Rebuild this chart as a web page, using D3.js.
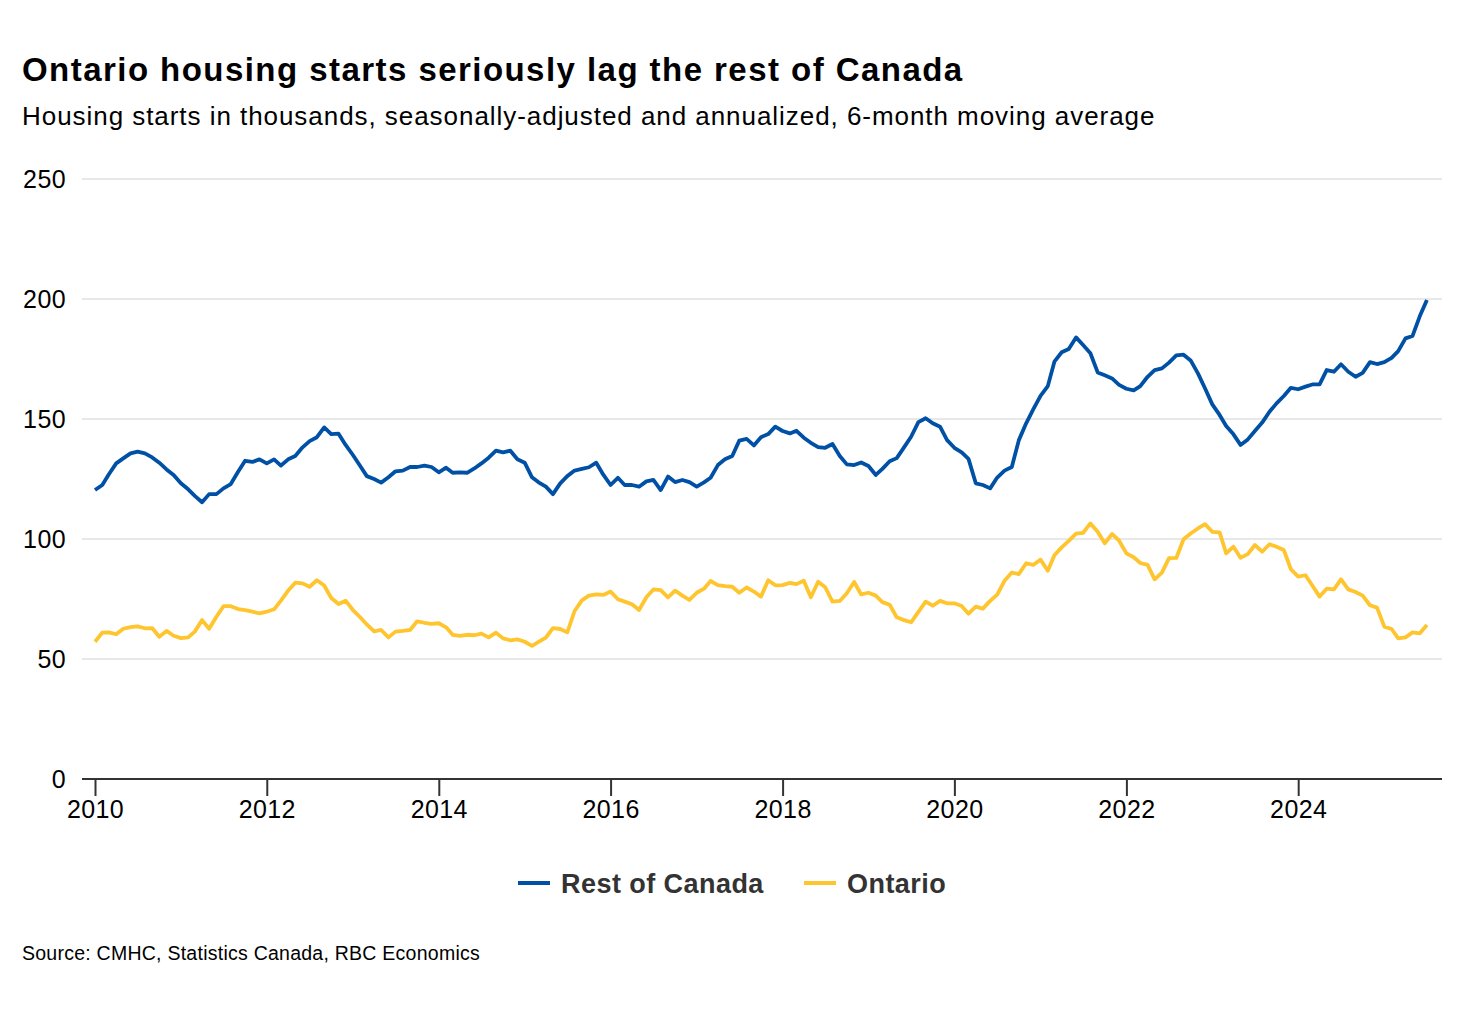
<!DOCTYPE html>
<html>
<head>
<meta charset="utf-8">
<script src="https://cdn.jsdelivr.net/npm/d3@7"></script>
<style>
  html, body { margin: 0; padding: 0; background: #fff; }
  svg { display: block; font-family: "Liberation Sans", Arial, Helvetica, sans-serif; }
</style>
</head>
<body>
<svg id="chart" width="1460" height="1028"></svg>
<script>
// ---------- DATA ----------
const titleText = "Ontario housing starts seriously lag the rest of Canada";
const subtitleText = "Housing starts in thousands, seasonally-adjusted and annualized, 6-month moving average";
const sourceText = "Source: CMHC, Statistics Canada, RBC Economics";

const seriesNames = ["Rest of Canada", "Ontario"];
const startYear = 2010; // monthly data from Jan 2010 to Jul 2025

const restOfCanada = [
  120.4,122.5,127,131.5,133.6,135.7,136.4,135.7,134,131.8,129,126.7,
  123.2,120.7,118,115.3,118.7,118.7,121.1,122.9,128,132.6,132.1,133.2,
  131.5,133.2,130.6,133.2,134.6,138.2,140.8,142.4,146.5,143.7,143.9,139.2,
  135,130.4,126.2,125,123.5,125.7,128.2,128.5,130,130,130.6,130,
  127.8,129.7,127.6,127.8,127.6,129.4,131.5,133.9,136.8,136.1,136.8,133.2,
  131.8,125.7,123.6,121.8,118.7,123.2,126.2,128.5,129.2,129.9,131.8,126.8,
  122.5,125.5,122.5,122.5,121.8,124,124.6,120.4,126,123.7,124.6,123.7,
  121.8,123.6,125.5,130.8,133.2,134.6,141,141.7,139,142.4,143.7,146.8,
  145,144,145.1,142.2,140.1,138.3,138,139.6,134.6,131.1,130.8,131.9,
  130.4,126.7,129.2,132.4,133.7,138.2,142.6,148.7,150.3,148.2,146.8,141.2,
  138,136.1,133.4,123.2,122.5,121.1,125.6,128.5,130,141.2,148.2,154,
  159.6,163.7,173.9,177.8,179.2,184,180.8,177.4,169.4,168.2,166.9,164.2,
  162.6,161.9,163.7,167.6,170.4,171.1,173.5,176.5,176.8,174.4,169,162.8,
  156.1,151.7,147.1,143.6,139.2,141.5,145,148.5,153,156.5,159.6,163,
  162.4,163.5,164.4,164.4,170.4,169.7,172.8,169.7,167.6,169.2,173.7,172.9,
  173.7,175.5,178.3,183.6,184.6,192.9,199.6
];

const ontario = [
  57.2,61,61.1,60.3,62.6,63.3,63.6,62.8,62.9,59.3,61.7,59.7,
  58.7,59,61.4,66.2,62.6,67.6,72,72,70.8,70.4,69.7,69,
  69.7,70.7,74.3,78.5,81.8,81.5,80.1,82.8,80.6,75.4,72.9,74.3,
  70.4,67.4,64.4,61.5,62.1,59,61.4,61.7,62.1,65.7,65.1,64.6,
  64.9,63.2,60.1,59.6,60.1,59.9,60.6,59,61,58.6,57.8,58.2,
  57.2,55.5,57.1,58.9,62.9,62.5,61.1,70,74.4,76.4,76.9,76.7,
  78.1,74.9,73.9,72.8,70.4,75.7,79,78.7,75.7,78.5,76.4,74.6,
  77.6,79.3,82.5,80.8,80.4,80.1,77.6,79.8,78.1,76,82.8,80.7,
  80.8,81.7,81.2,82.6,75.7,82.2,79.9,73.9,74.2,77.4,82.1,76.9,
  77.6,76.4,73.7,72.6,67.4,66.2,65.3,69.6,73.9,72.2,74.2,73.2,
  73.2,72.1,68.9,71.8,71,74.2,76.8,82.6,86,85.4,89.9,89.2,
  91.4,86.8,93.2,96.5,99.2,102.2,102.6,106.5,103,98.2,102.1,99.3,
  94,92.4,90,89.2,83.2,86,92,92.1,99.9,102.3,104.4,106.2,
  103,102.8,94,96.8,92.2,93.7,97.5,94.7,97.8,96.8,95.4,87.4,
  84.3,84.9,80.6,76,79.3,79,83.2,79,77.9,76.4,72.4,71.4,
  63.5,62.5,58.6,59,61.1,60.7,64.2
];

const yTicks = [0, 50, 100, 150, 200, 250];
const xTickYears = [2010, 2012, 2014, 2016, 2018, 2020, 2022, 2024];
const seriesColors = ["#0051a5", "#ffc52f"];

// ---------- CHART ----------
const svg = d3.select("#chart");
const font = "'Liberation Sans', Arial, Helvetica, sans-serif";

const plot = { left: 82, right: 1442, top: 179, bottom: 779 };

const dates = restOfCanada.map((_, i) => new Date(startYear, i, 1));

const x = d3.scaleTime()
  .domain([new Date(2010, 0, 1), new Date(2026, 0, 1)])
  .range([95, 95 + 85.95 * 16]);

const y = d3.scaleLinear()
  .domain([0, 250])
  .range([plot.bottom, plot.top]);

// Title & subtitle
svg.append("text")
  .attr("x", 22).attr("y", 81)
  .attr("font-size", 33).attr("font-weight", "bold").attr("fill", "#000")
  .attr("letter-spacing", 1.45)
  .text(titleText);

svg.append("text")
  .attr("x", 22).attr("y", 125)
  .attr("font-size", 26).attr("fill", "#000")
  .attr("letter-spacing", 0.95)
  .text(subtitleText);

// Gridlines
svg.append("g")
  .selectAll("line")
  .data(yTicks.filter(d => d > 0))
  .join("line")
  .attr("x1", plot.left).attr("x2", plot.right)
  .attr("y1", d => y(d)).attr("y2", d => y(d))
  .attr("stroke", "#e1e1e1").attr("stroke-width", 1.5);

// Y axis labels
const yAxis = d3.axisLeft(y).tickValues(yTicks).tickSize(0).tickPadding(0);
const gy = svg.append("g").attr("transform", `translate(66,0)`).call(yAxis);
gy.select(".domain").remove();
gy.selectAll("text")
  .attr("font-family", font).attr("font-size", 25).attr("fill", "#000")
  .attr("letter-spacing", 0.4)
  .attr("dy", "0.35em");

// X axis
const xAxis = d3.axisBottom(x)
  .tickValues(xTickYears.map(yr => new Date(yr, 0, 1)))
  .tickFormat(d3.timeFormat("%Y"))
  .tickSize(17).tickPadding(7);
const gx = svg.append("g").attr("transform", `translate(0,${plot.bottom})`).call(xAxis);
gx.select(".domain").remove();
gx.selectAll(".tick line").attr("stroke", "#333").attr("stroke-width", 2);
gx.selectAll("text")
  .attr("font-family", font).attr("font-size", 25).attr("fill", "#000")
  .attr("letter-spacing", 0.4)
  .attr("dy", "0.6em");
svg.append("line")
  .attr("x1", plot.left).attr("x2", plot.right)
  .attr("y1", y(0)).attr("y2", y(0))
  .attr("stroke", "#333").attr("stroke-width", 2.2);

// Lines
const line = d3.line()
  .x((d, i) => x(dates[i]))
  .y(d => y(d));

[ontario, restOfCanada].forEach((vals, k) => {
  const color = k === 0 ? seriesColors[1] : seriesColors[0];
  svg.append("path")
    .datum(vals)
    .attr("fill", "none")
    .attr("stroke", color)
    .attr("stroke-width", 3.8)
    .attr("stroke-linejoin", "round")
    .attr("d", line);
});

// Legend
const legend = svg.append("g").attr("transform", "translate(0,883)");
const legendItems = [
  { name: seriesNames[0], color: seriesColors[0], x: 518 },
  { name: seriesNames[1], color: seriesColors[1], x: 804 }
];
legendItems.forEach(it => {
  legend.append("line")
    .attr("x1", it.x).attr("x2", it.x + 32)
    .attr("y1", 0).attr("y2", 0)
    .attr("stroke", it.color).attr("stroke-width", 4);
  legend.append("text")
    .attr("x", it.x + 43).attr("y", 10)
    .attr("font-size", 27).attr("font-weight", "bold").attr("fill", "#333")
    .attr("letter-spacing", 0.45)
    .text(it.name);
});

// Source
svg.append("text")
  .attr("x", 22).attr("y", 960)
  .attr("font-size", 19.5).attr("fill", "#000")
  .attr("letter-spacing", 0.25)
  .text(sourceText);
</script>
</body>
</html>
